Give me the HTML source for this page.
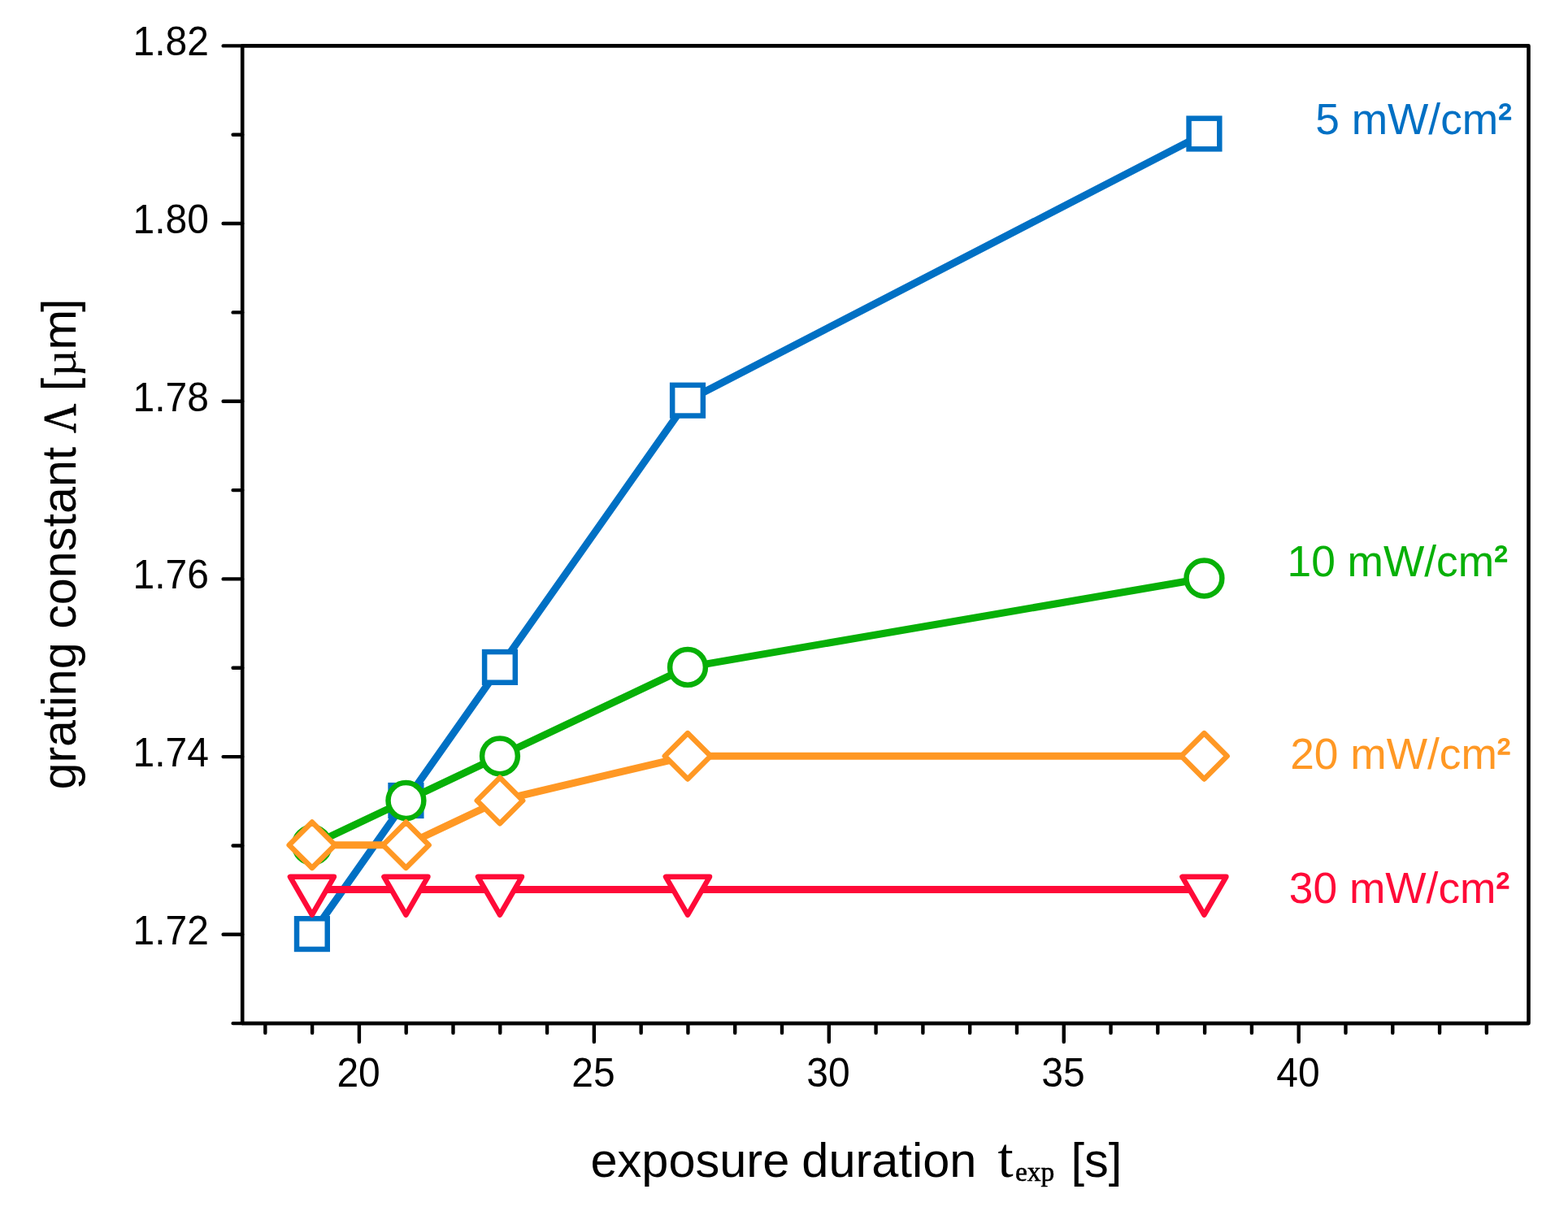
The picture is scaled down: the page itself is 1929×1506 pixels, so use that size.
<!DOCTYPE html>
<html lang="en"><head><meta charset="utf-8">
<title>grating constant vs exposure duration</title>
<style>
html,body{margin:0;padding:0;background:#fff;}
body{width:1929px;height:1506px;overflow:hidden;}
svg{display:block;}
text{font-family:"Liberation Sans", Arial, Helvetica, sans-serif;fill:#000;stroke:none;stroke-linejoin:round;}
.serif{font-family:"Liberation Serif", "Times New Roman", Times, serif;}
.ax{stroke:#000;stroke-width:4.6;fill:none;stroke-linecap:round;stroke-linejoin:round;}
.ln{fill:none;stroke-width:9;stroke-linejoin:round;stroke-linecap:round;}
.mk{fill:#fff;stroke-width:6.5;stroke-linejoin:round;}
.sq{stroke-linejoin:miter;}
.tkl{stroke-width:4.4;}
.s2{font-size:47px;stroke-width:1.3px;}
.bd{stroke:#000;}
.tk{font-size:48px;}
.lg{font-size:53.3px;}
.tt{font-size:59.5px;}
</style></head><body>
<svg xmlns="http://www.w3.org/2000/svg" width="1929" height="1506" viewBox="0 0 1929 1506">
<rect x="0" y="0" width="1929" height="1506" fill="#fff"/>
<g>
<path class="ln" stroke="#0070c4" d="M383.9 1149.1L499.43 985L614.96 820.9L846.02 492.7L1481.43 164.5"/>
<rect class="mk sq" stroke="#0070c4" x="365.05" y="1130.25" width="37.7" height="37.7"/>
<rect class="mk sq" stroke="#0070c4" x="480.58" y="966.15" width="37.7" height="37.7"/>
<rect class="mk sq" stroke="#0070c4" x="596.11" y="802.05" width="37.7" height="37.7"/>
<rect class="mk sq" stroke="#0070c4" x="827.17" y="473.85" width="37.7" height="37.7"/>
<rect class="mk sq" stroke="#0070c4" x="1462.59" y="145.65" width="37.7" height="37.7"/>
</g>
<g>
<path class="ln" stroke="#07b007" d="M383.9 1039.7L499.43 985L614.96 930.3L846.02 820.9L1481.43 711.5"/>
<circle class="mk" stroke="#07b007" cx="383.9" cy="1039.7" r="21.9"/>
<circle class="mk" stroke="#07b007" cx="499.43" cy="985" r="21.9"/>
<circle class="mk" stroke="#07b007" cx="614.96" cy="930.3" r="21.9"/>
<circle class="mk" stroke="#07b007" cx="846.02" cy="820.9" r="21.9"/>
<circle class="mk" stroke="#07b007" cx="1481.43" cy="711.5" r="21.9"/>
</g>
<g>
<path class="ln" stroke="#ff9824" d="M383.9 1039.7L499.43 1039.7L614.96 985L846.02 930.3L1481.43 930.3"/>
<path class="mk" stroke="#ff9824" d="M383.9 1011.5L412.1 1039.7L383.9 1067.9L355.7 1039.7Z"/>
<path class="mk" stroke="#ff9824" d="M499.43 1011.5L527.63 1039.7L499.43 1067.9L471.23 1039.7Z"/>
<path class="mk" stroke="#ff9824" d="M614.96 956.8L643.16 985L614.96 1013.2L586.76 985Z"/>
<path class="mk" stroke="#ff9824" d="M846.02 902.1L874.22 930.3L846.02 958.5L817.82 930.3Z"/>
<path class="mk" stroke="#ff9824" d="M1481.43 902.1L1509.63 930.3L1481.43 958.5L1453.23 930.3Z"/>
</g>
<g>
<path class="ln" stroke="#ff0a38" d="M383.9 1094.4L499.43 1094.4L614.96 1094.4L846.02 1094.4L1481.43 1094.4"/>
<path class="mk" stroke="#ff0a38" d="M356.9 1078.81L410.9 1078.81L383.9 1125.58Z"/>
<path class="mk" stroke="#ff0a38" d="M472.43 1078.81L526.43 1078.81L499.43 1125.58Z"/>
<path class="mk" stroke="#ff0a38" d="M587.96 1078.81L641.96 1078.81L614.96 1125.58Z"/>
<path class="mk" stroke="#ff0a38" d="M819.02 1078.81L873.02 1078.81L846.02 1125.58Z"/>
<path class="mk" stroke="#ff0a38" d="M1454.43 1078.81L1508.43 1078.81L1481.43 1125.58Z"/>
</g>
<g class="ax">
<path d="M298.2 56.4L1880.5 56.4L1880.5 1259.1L298.2 1259.1Z"/>
<path class="tkl" d="M298.2 1259.1H286.6M298.2 1149.76H274.6M298.2 1040.43H286.6M298.2 931.09H274.6M298.2 821.75H286.6M298.2 712.42H274.6M298.2 603.08H286.6M298.2 493.75H274.6M298.2 384.41H286.6M298.2 275.07H274.6M298.2 165.74H286.6M298.2 56.4H274.6"/>
<path class="tkl" d="M326.32 1259.1V1270.9M384.11 1259.1V1270.9M441.9 1259.1V1281.9M499.69 1259.1V1270.9M557.48 1259.1V1270.9M615.27 1259.1V1270.9M673.06 1259.1V1270.9M730.85 1259.1V1281.9M788.64 1259.1V1270.9M846.43 1259.1V1270.9M904.22 1259.1V1270.9M962.01 1259.1V1270.9M1019.8 1259.1V1281.9M1077.59 1259.1V1270.9M1135.38 1259.1V1270.9M1193.17 1259.1V1270.9M1250.96 1259.1V1270.9M1308.75 1259.1V1281.9M1366.54 1259.1V1270.9M1424.33 1259.1V1270.9M1482.12 1259.1V1270.9M1539.91 1259.1V1270.9M1597.7 1259.1V1281.9M1655.49 1259.1V1270.9M1713.28 1259.1V1270.9M1771.07 1259.1V1270.9M1828.86 1259.1V1270.9"/>
</g>
<g class="tk" text-anchor="end">
<text transform="translate(257 1161.66) scale(1 1.035)">1.72</text>
<text transform="translate(257 942.99) scale(1 1.035)">1.74</text>
<text transform="translate(257 724.32) scale(1 1.035)">1.76</text>
<text transform="translate(257 505.65) scale(1 1.035)">1.78</text>
<text transform="translate(257 286.97) scale(1 1.035)">1.80</text>
<text transform="translate(257 68.3) scale(1 1.035)">1.82</text>
</g>
<g class="tk" text-anchor="middle">
<text transform="translate(441.1 1337.3) scale(1 1.035)">20</text>
<text transform="translate(730.05 1337.3) scale(1 1.035)">25</text>
<text transform="translate(1019 1337.3) scale(1 1.035)">30</text>
<text transform="translate(1307.95 1337.3) scale(1 1.035)">35</text>
<text transform="translate(1596.9 1337.3) scale(1 1.035)">40</text>
</g>
<g class="lg">
<text x="1618.2" y="165.3" style="fill:#0070c4">5 mW/cm<tspan class="s2" dx="0.5" dy="-5.2" style="stroke:#0070c4">²</tspan></text>
<text x="1583.5" y="708.8" style="fill:#07b007">10 mW/cm<tspan class="s2" dx="0.5" dy="-5.2" style="stroke:#07b007">²</tspan></text>
<text x="1587.2" y="946" style="fill:#ff9824">20 mW/cm<tspan class="s2" dx="0.5" dy="-5.2" style="stroke:#ff9824">²</tspan></text>
<text x="1585.8" y="1111" style="fill:#ff0a38">30 mW/cm<tspan class="s2" dx="0.5" dy="-5.2" style="stroke:#ff0a38">²</tspan></text>
</g>
<g class="tt">
<text x="726.5" y="1448.4" style="word-spacing:-1.5px">exposure duration</text>
<text class="serif" x="1227.6" y="1447.8" style="font-size:69px">t</text>
<text class="serif" x="1249" y="1452.6" style="font-size:33.5px;stroke:#000;stroke-width:0.6px">exp</text>
<text x="1317.5" y="1448.4">[s]</text>
<g transform="translate(92.9 971.6) rotate(-90)">
<text x="0" y="0" style="font-size:59.3px">grating constant</text>
<text class="serif" x="438.8" y="0" style="font-size:56px;stroke:#000;stroke-width:0.9px" textLength="36" lengthAdjust="spacingAndGlyphs">Λ</text>
<text x="490.4" y="0">[</text>
<text class="serif" x="508" y="0" style="font-size:58px">µ</text>
<text x="541" y="0">m</text>
<text x="587.5" y="0">]</text>
</g>
</g>
</svg>
</body></html>
